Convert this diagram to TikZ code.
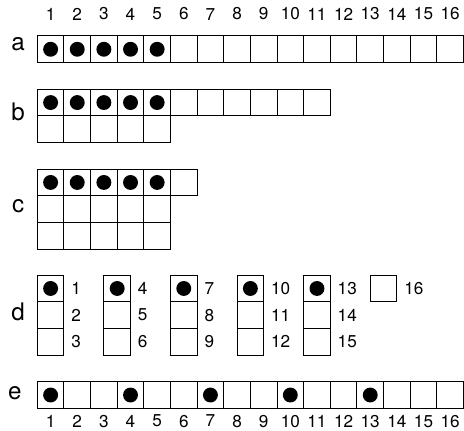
\documentclass[tikz,border=0pt]{standalone}
\usepackage{fontspec}
\setmainfont{TeX Gyre Heros}
\usetikzlibrary{positioning}
\tikzset{
  % Grid styles
  cell/.style={rectangle, draw=black, line width=0.6pt, minimum width=0.6cm, minimum height=0.6cm, inner sep=0pt},
  dot/.style={fill=black},
  rowlabel/.style={font=\fontsize{15.5}{17}\selectfont, inner sep=0pt},
  num/.style={font=\fontsize{11}{13}\selectfont, inner sep=0pt},
}

\begin{document}
\begin{tikzpicture}[x=0.6cm, y=-0.6cm]
    \useasboundingbox (-1.4,0) rectangle (16.02,16.16);

    % Row a: one line of 16
    \node[rowlabel] (la) at (-0.72,1.67) {a};
    \foreach \i in {1,...,16} {
      \node[cell] (a\i) at (\i-0.5,1.85) {};
      \node[num, above=0.34cm of a\i] (top\i) {\i};
    }
    \foreach \i in {1,...,5}
      \fill[dot] (a\i) circle[radius=0.168cm];

    % Row b: 11 over 5
    \node[rowlabel] (lb) at (-0.72,4.19) {b};
    \foreach \i in {1,...,11}
      \node[cell] (b\i) at (\i-0.5,3.85) {};
    \foreach \i in {1,...,5} {
      \node[cell] (bb\i) at (\i-0.5,4.85) {};
      \fill[dot] (b\i) circle[radius=0.168cm];
    }

    % Row c: 6 over 5 over 5
    \node[rowlabel] (lc) at (-0.72,7.75) {c};
    \foreach \i in {1,...,6}
      \node[cell] (c\i) at (\i-0.5,6.85) {};
    \foreach \i in {1,...,5} {
      \node[cell] (cc\i) at (\i-0.5,7.85) {};
      \node[cell] (ccc\i) at (\i-0.5,8.85) {};
      \fill[dot] (c\i) circle[radius=0.168cm];
    }

    % Row d: columns of 3, numbered
    \node[rowlabel] (ld) at (-0.72,11.69) {d};
    \foreach \k in {0,...,4} {
      \foreach \r in {1,2,3} {
        \pgfmathtruncatemacro\n{3*\k+\r}
        \node[cell] (d\n) at (2.5*\k+0.5,9.83+\r) {};
        \node[num, right=0.15cm of d\n] (dn\n) {\n};
      }
      \pgfmathtruncatemacro\m{3*\k+1}
      \fill[dot] (d\m) circle[radius=0.168cm];
    }
    \node[cell] (d16) at (13,10.83) {};
    \node[num, right=0.15cm of d16] (dn16) {16};

    % Row e: every third
    \node[rowlabel] (le) at (-0.84,14.77) {e};
    \foreach \i in {1,...,16} {
      \node[cell] (e\i) at (\i-0.5,14.83) {};
      \node[num, below=0.13cm of e\i] (bot\i) {\i};
    }
    \foreach \i in {1,4,7,10,13}
      \fill[dot] (e\i) circle[radius=0.168cm];
  \end{tikzpicture}
\end{document}
